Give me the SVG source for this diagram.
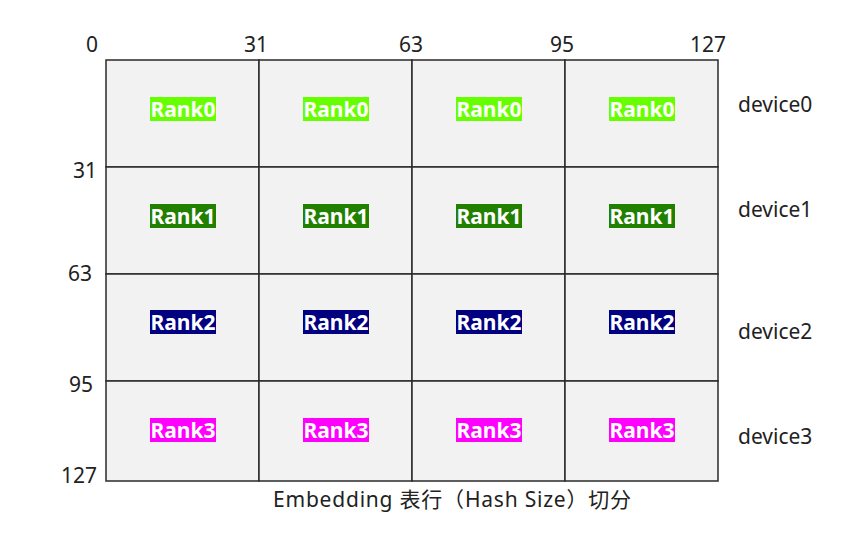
<svg xmlns="http://www.w3.org/2000/svg" width="862" height="533" viewBox="0 0 862 533">
<style>
.cell{fill:#f2f2f2;stroke:#2a2a2a;stroke-width:1.5}
.lbl{font-family:"Noto Sans","Noto Sans CJK SC",sans-serif;font-size:21px;fill:#222}
.rk{font-family:"Noto Sans","Liberation Sans",sans-serif;font-size:21px;font-weight:bold;fill:#fff;text-anchor:middle}
.r0{fill:#66ff00}.r1{fill:#228000}.r2{fill:#000080}.r3{fill:#ff00ff}
</style>
<rect width="862" height="533" fill="#fff"/>
<g id="grid">
<rect class="cell" x="106" y="60" width="153" height="107"/>
<rect class="cell" x="259" y="60" width="153" height="107"/>
<rect class="cell" x="412" y="60" width="153" height="107"/>
<rect class="cell" x="565" y="60" width="153" height="107"/>
<rect class="cell" x="106" y="167" width="153" height="107"/>
<rect class="cell" x="259" y="167" width="153" height="107"/>
<rect class="cell" x="412" y="167" width="153" height="107"/>
<rect class="cell" x="565" y="167" width="153" height="107"/>
<rect class="cell" x="106" y="274" width="153" height="107"/>
<rect class="cell" x="259" y="274" width="153" height="107"/>
<rect class="cell" x="412" y="274" width="153" height="107"/>
<rect class="cell" x="565" y="274" width="153" height="107"/>
<rect class="cell" x="106" y="381" width="153" height="100"/>
<rect class="cell" x="259" y="381" width="153" height="100"/>
<rect class="cell" x="412" y="381" width="153" height="100"/>
<rect class="cell" x="565" y="381" width="153" height="100"/>
</g>
<g id="rank0">
<rect class="r0" x="150" y="97" width="66" height="24"/><text class="rk" x="183" y="116.5">Rank0</text>
<rect class="r0" x="303" y="97" width="66" height="24"/><text class="rk" x="336" y="116.5">Rank0</text>
<rect class="r0" x="456" y="97" width="66" height="24"/><text class="rk" x="489" y="116.5">Rank0</text>
<rect class="r0" x="609" y="97" width="66" height="24"/><text class="rk" x="642" y="116.5">Rank0</text>
</g>
<g id="rank1">
<rect class="r1" x="150" y="204" width="66" height="24"/><text class="rk" x="183" y="223.5">Rank1</text>
<rect class="r1" x="303" y="204" width="66" height="24"/><text class="rk" x="336" y="223.5">Rank1</text>
<rect class="r1" x="456" y="204" width="66" height="24"/><text class="rk" x="489" y="223.5">Rank1</text>
<rect class="r1" x="609" y="204" width="66" height="24"/><text class="rk" x="642" y="223.5">Rank1</text>
</g>
<g id="rank2">
<rect class="r2" x="150" y="310" width="66" height="24"/><text class="rk" x="183" y="329.5">Rank2</text>
<rect class="r2" x="303" y="310" width="66" height="24"/><text class="rk" x="336" y="329.5">Rank2</text>
<rect class="r2" x="456" y="310" width="66" height="24"/><text class="rk" x="489" y="329.5">Rank2</text>
<rect class="r2" x="609" y="310" width="66" height="24"/><text class="rk" x="642" y="329.5">Rank2</text>
</g>
<g id="rank3">
<rect class="r3" x="150" y="418" width="66" height="24"/><text class="rk" x="183" y="437.5">Rank3</text>
<rect class="r3" x="303" y="418" width="66" height="24"/><text class="rk" x="336" y="437.5">Rank3</text>
<rect class="r3" x="456" y="418" width="66" height="24"/><text class="rk" x="489" y="437.5">Rank3</text>
<rect class="r3" x="609" y="418" width="66" height="24"/><text class="rk" x="642" y="437.5">Rank3</text>
</g>
<g id="col-axis" class="lbl" text-anchor="middle">
<text x="92" y="52">0</text>
<text x="256" y="52">31</text>
<text x="411" y="52">63</text>
<text x="562" y="52">95</text>
<text x="708" y="52">127</text>
</g>
<g id="row-axis" class="lbl" text-anchor="end">
<text x="97" y="178">31</text>
<text x="92" y="281">63</text>
<text x="93" y="392">95</text>
<text x="97" y="483">127</text>
</g>
<g id="devices" class="lbl">
<text x="738" y="112">device0</text>
<text x="738" y="217">device1</text>
<text x="738" y="339">device2</text>
<text x="738" y="444">device3</text>
</g>
<g id="connectors"/>
<g id="caption">
<text class="lbl" x="273" y="507" font-size="20" textLength="358" lengthAdjust="spacing">Embedding 表行（Hash Size）切分</text>
</g>
</svg>
